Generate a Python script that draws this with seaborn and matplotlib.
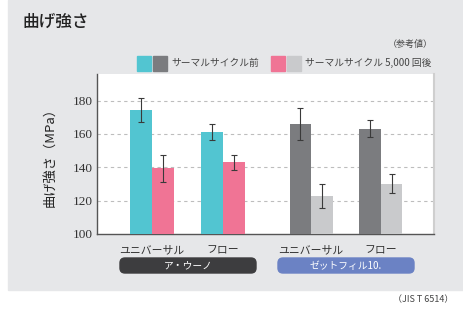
import pandas as pd
import seaborn as sns
import matplotlib.pyplot as plt
from matplotlib.patches import FancyBboxPatch, Rectangle

# --- データ ---
materials = ['ア・ウーノ', 'ア・ウーノ', 'ゼットフィル10.', 'ゼットフィル10.']
types = ['ユニバーサル', 'フロー', 'ユニバーサル', 'フロー']
group_pos = [0, 1, 2.24, 3.22]
before_vals = [174.6, 161.2, 166.2, 163.3]
before_err = [7.2, 4.7, 9.7, 5.0]
after_vals = [139.5, 143.1, 122.7, 130.3]
after_err = [8.0, 4.4, 7.3, 5.4]
states = ['サーマルサイクル前', 'サーマルサイクル 5,000 回後']

colors = {
    ('ア・ウーノ', 0): '#52c5d1', ('ア・ウーノ', 1): '#f07495',
    ('ゼットフィル10.', 0): '#7b7c7f', ('ゼットフィル10.', 1): '#c9cacc',
}
pill_colors = {'ア・ウーノ': '#3d3d3f', 'ゼットフィル10.': '#6b82c4'}
bg = '#e6e7e9'

df = pd.DataFrame({
    'pos': group_pos * 2,
    'value': before_vals + after_vals,
    'err': before_err + after_err,
    'state': [states[0]] * 4 + [states[1]] * 4,
    'material': materials * 2,
})

sns.set_theme(style='white')
plt.rcParams['font.family'] = ['Noto Sans CJK JP', 'DejaVu Sans']

fig = plt.figure(figsize=(4.64, 3.10), dpi=100)

# 背景用の軸（ピクセル座標）
bgax = fig.add_axes([0, 0, 1, 1], zorder=-5)
bgax.set_xlim(0, 464)
bgax.set_ylim(310, 0)
bgax.axis('off')
bgax.add_patch(Rectangle((8, 0), 456, 290, color=bg))

ax = fig.add_axes([97 / 464, 76 / 310, 337 / 464, 160 / 310])

sns.barplot(data=df, x='pos', y='value', hue='state', native_scale=True,
            width=0.62, gap=0, palette=['#52c5d1', '#f07495'], ax=ax,
            legend=False, saturation=1, linewidth=0, zorder=3)

# 棒の色と誤差棒
bars = sorted(ax.patches, key=lambda p: p.get_x())
k = 0
for i, m in enumerate(materials):
    for s, (v, e) in enumerate([(before_vals[i], before_err[i]), (after_vals[i], after_err[i])]):
        b = bars[k]
        k += 1
        b.set_facecolor(colors[(m, s)])
        cx = b.get_x() + b.get_width() / 2
        ax.errorbar(cx, v, yerr=e, fmt='none', ecolor='#3a3a3a', elinewidth=0.8,
                    capsize=2.5, capthick=0.8, zorder=4)

ax.set_ylim(100, 196)
ax.set_xlim(-0.775, 3.97)
ax.set_yticks([100, 120, 140, 160, 180])
ax.set_yticklabels(['100', '120', '140', '160', '180'], family='Liberation Serif',
                   fontsize=9.5, color='#333333')
ax.set_xticks(group_pos)
ax.set_xticklabels(types, fontsize=7.8, color='#333333')
ax.tick_params(axis='y', length=0, pad=3)
ax.tick_params(axis='x', length=0, pad=8)
for y in [120, 140, 160, 180]:
    ax.axhline(y, color='#bdbdbd', lw=0.8, ls=(0, (3, 3)), zorder=1)
ax.set_xlabel('')
ax.set_ylabel('曲げ強さ（MPa）', fontsize=9.5, color='#222222', labelpad=12)
for side in ['left', 'bottom']:
    ax.spines[side].set_color('#555555')
    ax.spines[side].set_linewidth(1.0)
ax.spines['top'].set_visible(False)
ax.spines['right'].set_color('#cfcfcf')
ax.spines['right'].set_linewidth(1.5)

# 材料名のラベル
for name, x0, x1 in [('ア・ウーノ', 120, 256), ('ゼットフィル10.', 278, 414)]:
    bgax.add_patch(FancyBboxPatch((x0, 258), x1 - x0, 15,
                                  boxstyle='round,pad=0,rounding_size=5',
                                  color=pill_colors[name]))
    bgax.text((x0 + x1) / 2, 265.5, name, ha='center', va='center',
              color='white', fontsize=7)

# タイトル・凡例
bgax.text(22, 22, '曲げ強さ', fontsize=12, fontweight='medium',
          va='center', color='#222222')
bgax.text(433, 44, '（参考値）', fontsize=6.5, ha='right', va='center', color='#444444')
for x, c in [(137, '#52c5d1'), (153, '#7b7c7f'), (271, '#f07495'), (287, '#c9cacc')]:
    bgax.add_patch(Rectangle((x, 56), 14, 15, color=c))
bgax.text(171, 63, states[0], fontsize=7, va='center', color='#444444')
bgax.text(305, 63, states[1], fontsize=7, va='center', color='#444444')
bgax.text(453, 300, '（JIS T 6514）', fontsize=6.5, ha='right', va='center', color='#444444')

fig.savefig('out.png', dpi=100, facecolor='white')
